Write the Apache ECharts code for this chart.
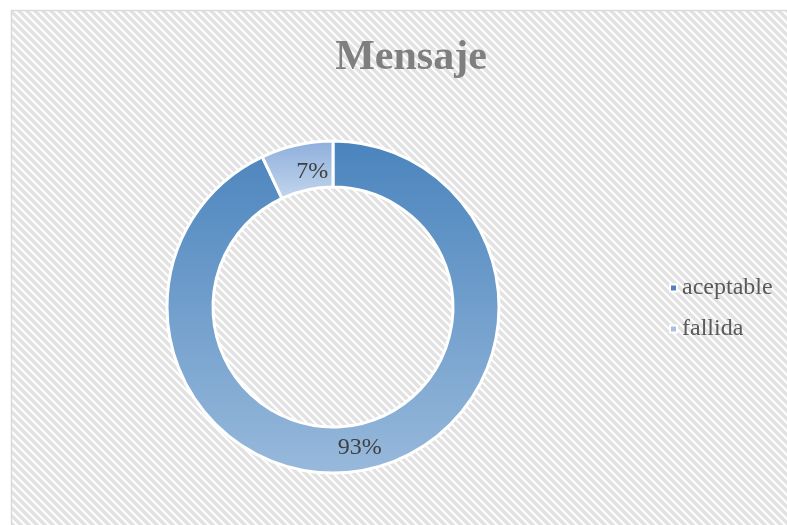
<!DOCTYPE html>
<html>
<head>
<meta charset="utf-8">
<script src="https://cdn.jsdelivr.net/npm/echarts@6/dist/echarts.min.js"></script>
<style>
  html, body { margin: 0; padding: 0; background: #fff; }
  #main { width: 787px; height: 525px; }
</style>
</head>
<body>
<div id="main"></div>
<script>
// datos del grafico
var categorias = ['aceptable', 'fallida'];
var valores = [93, 7];
var titulo = 'Mensaje';

// fondo rayado diagonal
var tile = document.createElement('canvas');
tile.width = 8;
tile.height = 8;
var ctx = tile.getContext('2d');
ctx.fillStyle = '#ffffff';
ctx.fillRect(0, 0, 8, 8);
ctx.strokeStyle = '#e2e2e2';
ctx.lineWidth = 3.5;
for (var k = -1; k <= 1; k++) {
    ctx.beginPath();
    ctx.moveTo(k * 8 - 2, -2);
    ctx.lineTo(k * 8 + 10, 10);
    ctx.stroke();
}

var colores = [
    new echarts.graphic.LinearGradient(0, 0, 0, 1, [
        { offset: 0, color: '#4a84bd' },
        { offset: 1, color: '#98b9db' }
    ]),
    new echarts.graphic.LinearGradient(0, 0, 0, 1, [
        { offset: 0, color: '#8daedb' },
        { offset: 1, color: '#c3d6ed' }
    ])
];
var coloresLeyenda = ['#4f81bd', '#a7c1e3'];
// desplazamiento de etiquetas como en Excel
var desplazamientos = [[-5, -2], [11, 7]];

var datos = categorias.map(function (c, i) {
    return {
        name: c,
        value: valores[i],
        itemStyle: { color: colores[i] },
        label: { offset: desplazamientos[i] }
    };
});

var myChart = echarts.init(document.getElementById('main'));
var option = {
    backgroundColor: '#ffffff',
    graphic: [{
        type: 'rect',
        z: -10,
        shape: { x: 11.5, y: 10.5, width: 800, height: 540 },
        style: { fill: { image: tile, repeat: 'repeat' }, stroke: '#d9d9d9', lineWidth: 1.5 }
    }],
    title: {
        text: titulo,
        left: 406,
        textAlign: 'center',
        top: 32,
        textStyle: {
            fontFamily: 'Liberation Serif',
            fontSize: 42,
            fontWeight: 'bold',
            color: '#7f7f7f'
        }
    },
    legend: {
        orient: 'vertical',
        left: 664,
        top: 271,
        icon: 'rect',
        itemWidth: 7,
        itemHeight: 7,
        itemGap: 17,
        data: categorias.map(function (c, i) {
            return { name: c, itemStyle: { color: coloresLeyenda[i] } };
        }),
        textStyle: {
            fontFamily: 'Liberation Serif',
            fontSize: 24,
            color: '#595959'
        }
    },
    series: [{
        name: titulo,
        type: 'pie',
        center: [333, 307],
        radius: [120, 166],
        startAngle: 90,
        clockwise: true,
        avoidLabelOverlap: false,
        itemStyle: { borderColor: '#ffffff', borderWidth: 3 },
        label: {
            show: true,
            position: 'inside',
            formatter: function (p) { return Math.round(p.percent) + '%'; },
            fontFamily: 'Liberation Serif',
            fontSize: 24,
            color: '#404040'
        },
        labelLine: { show: false },
        emphasis: { disabled: true },
        data: datos
    }]
};
myChart.setOption(option);
</script>
</body>
</html>
